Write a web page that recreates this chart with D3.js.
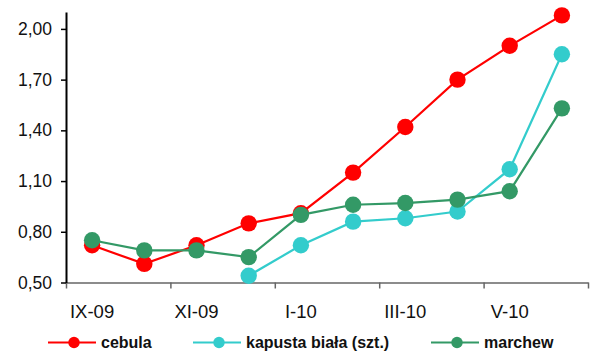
<!DOCTYPE html>
<html>
<head>
<meta charset="utf-8">
<script src="https://cdn.jsdelivr.net/npm/d3@7"></script>
<style>
  body { margin: 0; background: #fff; }
  text { font-family: "Liberation Sans", Arial, sans-serif; }
</style>
</head>
<body>
<div id="chart"></div>
<script>
// months on the x axis (only every second one gets a label)
const months = ["IX-09", "X-09", "XI-09", "XII-09", "I-10", "II-10", "III-10", "IV-10", "V-10", "VI-10"];
const yTicks = [0.5, 0.8, 1.1, 1.4, 1.7, 2.0];

// prices
const cebula = [0.72, 0.61, 0.72, 0.85, 0.91, 1.15, 1.42, 1.70, 1.90, 2.08];
const kapusta = [null, null, null, 0.54, 0.72, 0.86, 0.88, 0.92, 1.17, 1.85];
const marchew = [0.75, 0.69, 0.69, 0.65, 0.90, 0.96, 0.97, 0.99, 1.04, 1.53];

const seriesNames = ["cebula", "kapusta biała (szt.)", "marchew"];
const seriesColors = ["#ff0000", "#33cccc", "#339966"];

const width = 592,
  height = 353;
const plotLeft = 66, plotRight = 588, plotTop = 12, plotBottom = 282.5;

const svg = d3.select("#chart")
  .append("svg")
  .attr("width", width)
  .attr("height", height);

const x = d3.scaleBand().domain(months).range([plotLeft, plotRight]).padding(0);
const y = d3.scaleLinear().domain([0.5, 2.1]).range([plotBottom, plotTop]);
// boundaries between months, for the tick marks
const xEdge = d3.scaleLinear().domain([0, months.length]).range([plotLeft, plotRight]);

// x axis: line + tick marks at every second boundary
const xAxis = svg.append("g")
  .attr("transform", `translate(0, ${plotBottom})`)
  .call(d3.axisBottom(xEdge).tickValues([0, 2, 4, 6, 8, 10]).tickFormat("").tickSize(6).tickSizeOuter(0));
xAxis.select(".domain").attr("stroke", "#666").attr("stroke-width", 1.5);
xAxis.selectAll(".tick line").attr("stroke", "#666").attr("stroke-width", 1.5);

// month labels
svg.append("g")
  .selectAll("text")
  .data(months.filter((d, i) => i % 2 === 0))
  .join("text")
  .attr("x", d => x(d) + x.bandwidth() / 2)
  .attr("y", 318)
  .attr("text-anchor", "middle")
  .style("font-size", "18.5px")
  .attr("fill", "#111")
  .text(d => d);

// y axis
const yAxis = svg.append("g")
  .attr("transform", `translate(${plotLeft}, 0)`)
  .call(d3.axisLeft(y).tickValues(yTicks).tickSize(5).tickPadding(9).tickSizeOuter(0)
    .tickFormat(d => d3.format(".2f")(d).replace(".", ",")));
yAxis.select(".domain").attr("stroke", "#000").attr("stroke-width", 2);
yAxis.selectAll(".tick line").attr("stroke", "#000").attr("stroke-width", 1.5);
yAxis.selectAll(".tick text").style("font-size", "17.5px").attr("fill", "#111");

// series
const allSeries = [cebula, kapusta, marchew];
const line = d3.line()
  .defined(d => d.v !== null)
  .x(d => x(d.m) + x.bandwidth() / 2)
  .y(d => y(d.v));

allSeries.forEach(function (vals, s) {
  const pts = vals.map((v, i) => ({ m: months[i], v: v }));
  const g = svg.append("g");
  g.append("path")
    .datum(pts)
    .attr("d", line)
    .attr("fill", "none")
    .attr("stroke", seriesColors[s])
    .attr("stroke-width", 2.2);
  g.selectAll("circle")
    .data(pts.filter(d => d.v !== null))
    .join("circle")
    .attr("cx", d => x(d.m) + x.bandwidth() / 2)
    .attr("cy", d => y(d.v))
    .attr("r", 8.2)
    .attr("fill", seriesColors[s]);
});

// legend
const legendX = [48, 193, 431];
const legend = svg.append("g")
  .selectAll("g")
  .data(seriesNames)
  .join("g")
  .attr("transform", (d, i) => `translate(${legendX[i]}, 342.5)`);
legend.append("line")
  .attr("x1", 0).attr("x2", 48)
  .attr("stroke", (d, i) => seriesColors[i])
  .attr("stroke-width", 2.2);
legend.append("circle")
  .attr("cx", 26).attr("r", 5.7)
  .attr("fill", (d, i) => seriesColors[i]);
legend.append("text")
  .attr("x", 53)
  .attr("dy", "0.35em")
  .style("font-size", "16px")
  .style("font-weight", "bold")
  .attr("fill", "#111")
  .text(d => d);
</script>
</body>
</html>
